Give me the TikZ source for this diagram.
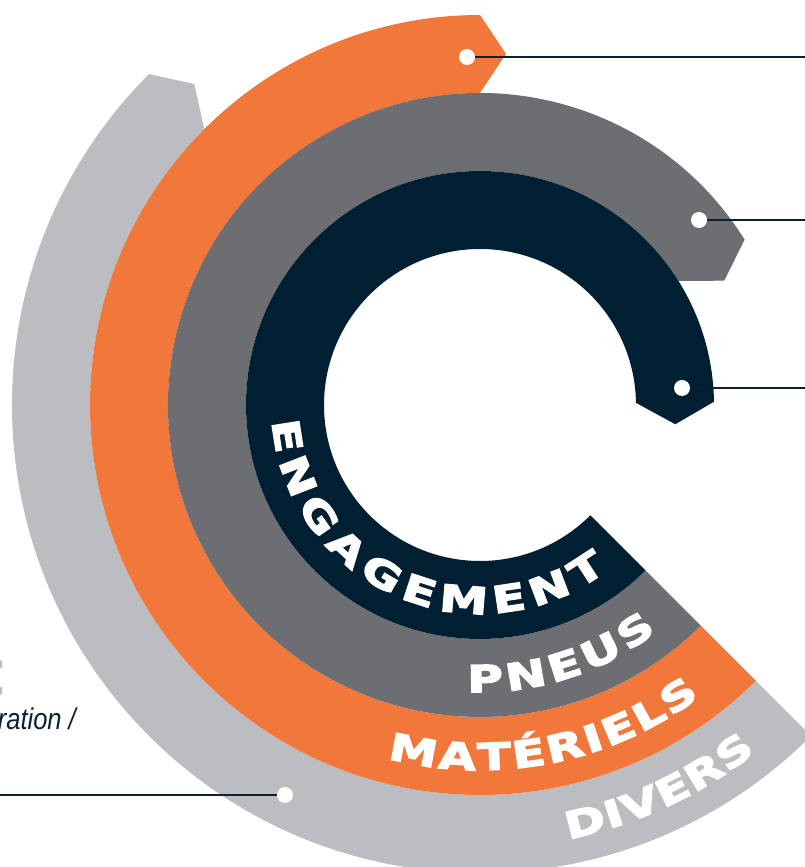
\documentclass[tikz,border=0pt]{standalone}
\usepackage{fontspec}
\usetikzlibrary{calc,decorations.text}
\font\bandraw="DejaVu Sans/B:extend=1.32;embolden=4" at 37pt
\newfontfamily\fragfont{DejaVu Sans Bold}
\newfontfamily\notefont{Liberation Sans}[FakeStretch=0.85]
\definecolor{navy}{HTML}{001F32}
\definecolor{midgray}{HTML}{6D6E72}
\definecolor{brandorange}{HTML}{F2773B}
\definecolor{lightgray}{HTML}{BCBDC0}
\definecolor{linenavy}{HTML}{0B2133}
\newcommand\ringband[5]{%
  \fill[#1] ($(C)+(#4:#3)$) arc[start angle=#4, end angle=315, radius=#3pt]
    -- ($(C)+(315:#2)$) arc[start angle=315, end angle=#4, radius=#2pt]
    -- ($(C)+(#4:{(#2+#3)/2})+({#4-90}:#5)$) -- cycle;}
\begin{document}
\begin{tikzpicture}[x=1pt,y=1pt,
  conn/.style={draw=linenavy, line width=1.6pt},
  dot/.style={circle, fill=white, draw=none, inner sep=0pt, minimum size=16pt},
  bandlabel/.style={decorate, decoration={text along path, text align=fit to path, text color=white}}]
\useasboundingbox (0,0) rectangle (805,867);
\coordinate (C) at (480,462);
% bands
\ringband{lightgray}{390}{468}{135}{25}
\ringband{brandorange}{312}{390}{90}{26}
\ringband{midgray}{234}{312}{32}{24}
\ringband{navy}{156}{234}{0.8}{22}
% curved labels
\path[bandlabel, decoration={text={|\bandraw|ENGAGEMENT}}]
  ($(C)+(184.5:208.5)$) arc[start angle=184.5, end angle=307.5, radius=208.5pt];
\path[bandlabel, decoration={text={|\bandraw|PNEUS}}]
  ($(C)+(267.5:287)$) arc[start angle=267.5, end angle=308, radius=287pt];
\path[bandlabel, decoration={text={|\bandraw|MATÉRIELS}}]
  ($(C)+(255.3:365)$) arc[start angle=255.3, end angle=307, radius=365pt];
\path[bandlabel, decoration={text={|\bandraw|DIVERS}}]
  ($(C)+(281.5:443)$) arc[start angle=281.5, end angle=308.5, radius=443pt];
% connectors
\coordinate (p1) at (467,810);
\coordinate (e1) at (805,810);
\coordinate (p2) at (699,647);
\coordinate (e2) at (805,647);
\coordinate (p3) at (682,479);
\coordinate (e3) at (805,479);
\coordinate (p4) at (285,72);
\coordinate (e4) at (0,72);
\draw[conn] (p1) -- (e1);
\draw[conn] (p2) -- (e2);
\draw[conn] (p3) -- (e3);
\draw[conn] (p4) -- (e4);
\node[dot] (d1) at (p1) {};
\node[dot] (d2) at (p2) {};
\node[dot] (d3) at (p3) {};
\node[dot] (d4) at (p4) {};
% left text fragments
\node[anchor=base east, inner sep=0pt, text=lightgray, font=\fragfont\fontsize{51}{51}\selectfont] (frag) at (6,170) {C};
\node[anchor=base east, inner sep=0pt, text=linenavy, font=\notefont\itshape\fontsize{30}{30}\selectfont] (note) at (76,137) {ration /};
\end{tikzpicture}
\end{document}
